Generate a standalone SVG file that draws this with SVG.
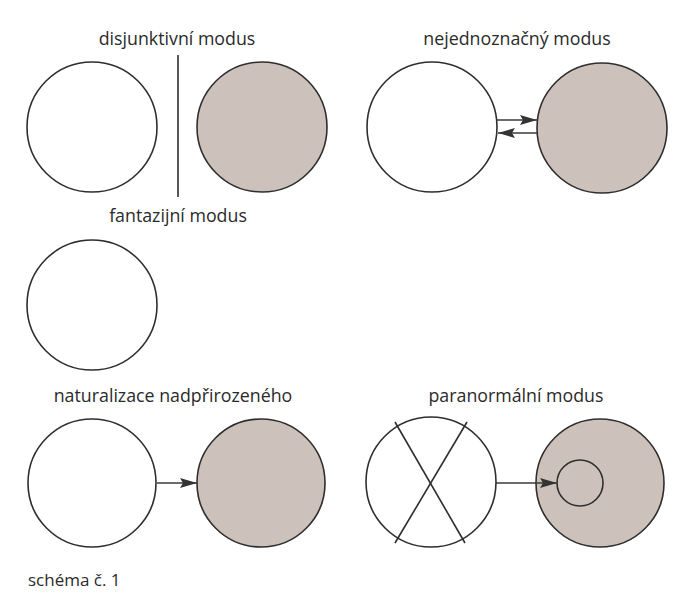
<svg xmlns="http://www.w3.org/2000/svg" width="679" height="593" viewBox="0 0 679 593">
<style>
.c{fill:#fff;stroke:#2e2e2e;stroke-width:1.6}
.g{fill:#cdc2bb;stroke:#2e2e2e;stroke-width:1.6}
.l{fill:none;stroke:#2e2e2e;stroke-width:1.6}
.a{fill:none;stroke:#3a3a3a;stroke-width:1.6}
text{font-family:"Open Sans","Noto Sans",sans-serif;font-size:17.8px;fill:#2a2a2a;text-anchor:middle}
.cap{text-anchor:start;font-size:17px}
</style>
<defs>
<marker id="ah" viewBox="0 0 17 10" refX="17" refY="5" markerWidth="17" markerHeight="10" markerUnits="userSpaceOnUse" orient="auto">
<path d="M0,0 L17,5 L0,10 L3,5 Z" fill="#333"/>
</marker>
</defs>
<rect width="679" height="593" fill="#fff"/>
<g id="disjunktivni">
<text x="177" y="45">disjunktivní modus</text>
<circle class="c" cx="92" cy="127" r="65"/>
<line class="l" x1="178" y1="55" x2="178" y2="197"/>
<circle class="g" cx="262" cy="127" r="65"/>
</g>
<g id="nejednoznacny">
<text x="517" y="45">nejednoznačný modus</text>
<circle class="c" cx="432" cy="127" r="65"/>
<circle class="g" cx="602" cy="128" r="65"/>
</g>
<g id="fantazijni">
<text x="178" y="222">fantazijní modus</text>
<circle class="c" cx="92" cy="305" r="65"/>
</g>
<g id="naturalizace">
<text x="173" y="402">naturalizace nadpřirozeného</text>
<circle class="c" cx="92" cy="483" r="64"/>
<circle class="g" cx="261" cy="483" r="64"/>
</g>
<g id="paranormalni">
<text x="516" y="402">paranormální modus</text>
<circle class="c" cx="431" cy="482" r="65"/>
<line class="l" x1="395" y1="422" x2="465" y2="543"/>
<line class="l" x1="467" y1="422" x2="395" y2="543"/>
<circle class="g" cx="600" cy="483" r="64"/>
<circle class="g" cx="580" cy="483" r="23"/>
</g>
<g id="connectors">
<line class="a" x1="497" y1="120" x2="537" y2="120" marker-end="url(#ah)"/>
<line class="a" x1="537" y1="133" x2="498" y2="133" marker-end="url(#ah)"/>
<line class="a" x1="157" y1="483" x2="197" y2="483" marker-end="url(#ah)"/>
<line class="a" x1="496" y1="483" x2="557" y2="483" marker-end="url(#ah)"/>
</g>
<text class="cap" x="28" y="586">schéma č. 1</text>
</svg>
